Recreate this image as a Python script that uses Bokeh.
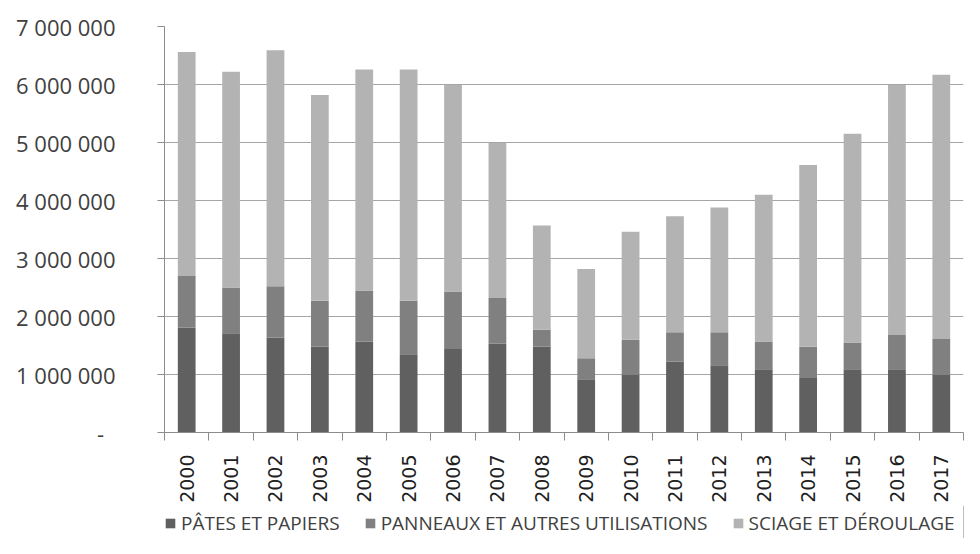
from bokeh.plotting import figure
from bokeh.models import (ColumnDataSource, Range1d, FixedTicker, Legend, LegendItem)
from bokeh.layouts import column
from bokeh.embed import file_html
from bokeh.resources import INLINE
import math

years = ["2000", "2001", "2002", "2003", "2004", "2005", "2006", "2007", "2008",
         "2009", "2010", "2011", "2012", "2013", "2014", "2015", "2016", "2017"]
pates = [1810000, 1710000, 1640000, 1480000, 1570000, 1350000, 1440000, 1530000, 1480000,
         920000, 1000000, 1220000, 1160000, 1090000, 940000, 1090000, 1090000, 1000000]
panneaux = [890000, 790000, 880000, 790000, 880000, 920000, 990000, 790000, 290000,
            360000, 600000, 510000, 570000, 480000, 540000, 460000, 590000, 610000]
sciage = [3860000, 3720000, 4070000, 3550000, 3810000, 3990000, 3560000, 2670000, 1800000,
          1540000, 1860000, 2000000, 2150000, 2530000, 3130000, 3600000, 4310000, 4560000]
series_names = ["PÂTES ET PAPIERS", "PANNEAUX ET AUTRES UTILISATIONS", "SCIAGE ET DÉROULAGE"]
y_ticks = [0, 1000000, 2000000, 3000000, 4000000, 5000000, 6000000, 7000000]
y_tick_labels = ["-\u00a0\u00a0", "1 000 000", "2 000 000", "3 000 000", "4 000 000",
                 "5 000 000", "6 000 000", "7 000 000"]

colors = ["#606060", "#808080", "#b3b3b3"]
text_color = "#404040"

idx = list(range(len(years)))
src = ColumnDataSource(dict(x=idx, pates=pates, panneaux=panneaux, sciage=sciage))

p = figure(width=964, height=505, output_backend="svg", toolbar_location=None,
           x_range=Range1d(-0.5, len(years) - 0.5), y_range=Range1d(0, 7000000),
           min_border_left=164, min_border_right=1, min_border_top=26, min_border_bottom=72)
p.outline_line_color = None
p.background_fill_color = "white"
p.border_fill_color = "white"

rs = p.vbar_stack(["pates", "panneaux", "sciage"], x="x", width=0.4, color=colors,
                  line_color=None, source=src)

# y axis
p.yaxis.ticker = FixedTicker(ticks=y_ticks)
p.yaxis.major_label_overrides = {t: l for t, l in zip(y_ticks, y_tick_labels)}
p.yaxis.major_label_text_font = "Open Sans"
p.yaxis.major_label_text_font_size = "22px"
p.yaxis.major_label_text_color = text_color
p.yaxis.axis_line_color = "#8c8c8c"
p.yaxis.major_tick_line_color = "#8c8c8c"
p.yaxis.major_tick_out = 7
p.yaxis.major_tick_in = 0
p.yaxis.minor_tick_line_color = None
p.yaxis.major_label_standoff = 42

# x axis
p.xaxis.ticker = FixedTicker(ticks=idx, minor_ticks=[i - 0.5 for i in range(len(years) + 1)])
p.xaxis.major_label_overrides = {i: y for i, y in zip(idx, years)}
p.xaxis.major_label_orientation = math.pi / 2
p.xaxis.major_label_text_font = "DejaVu Sans"
p.xaxis.major_label_text_font_size = "19px"
p.xaxis.major_label_text_color = "#202020"
p.xaxis.axis_line_color = "#8c8c8c"
p.xaxis.major_tick_line_color = None
p.xaxis.major_tick_out = 0
p.xaxis.major_tick_in = 0
p.xaxis.minor_tick_line_color = "#8c8c8c"
p.xaxis.minor_tick_out = 8
p.xaxis.minor_tick_in = 0
p.xaxis.major_label_standoff = 14

p.xgrid.grid_line_color = None
p.ygrid.ticker = FixedTicker(ticks=y_ticks)
p.ygrid.grid_line_color = "#a6a6a6"
p.ygrid.grid_line_width = 1

# legend strip below the chart
lp = figure(width=964, height=33, output_backend="svg", toolbar_location=None,
            x_range=Range1d(0, 1), y_range=Range1d(0, 1),
            x_axis_location=None, y_axis_location=None,
            min_border_left=0, min_border_right=0, min_border_top=0, min_border_bottom=0)
lp.grid.visible = False
lp.outline_line_color = None
# placeholder renderers placed outside the visible range; they only provide legend swatches
dummies = [lp.vbar(x=[5], top=[5], width=0.1, color=c, line_color=None) for c in colors]
legend = Legend(items=[LegendItem(label=n, renderers=[r]) for n, r in zip(series_names, dummies)],
                orientation="horizontal", location=(0, 2),
                padding=0, margin=0, spacing=24, border_line_color=None,
                background_fill_alpha=0, glyph_width=12, glyph_height=12,
                label_standoff=5, label_text_font="Open Sans",
                label_text_font_size="19px", label_text_color=text_color)
lp.add_layout(legend, "center")

layout = column(p, lp, spacing=0)
open("out.html", "w").write(file_html(layout, INLINE))
